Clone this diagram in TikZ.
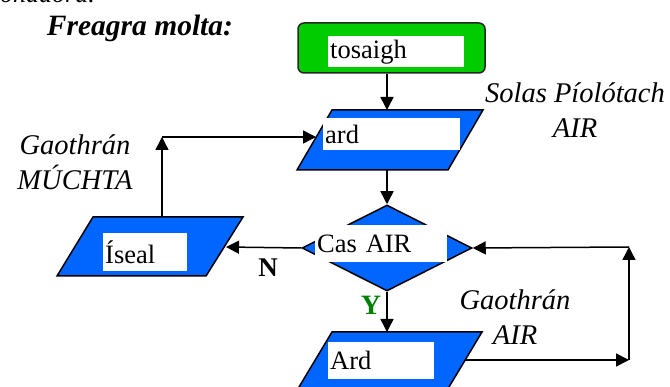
\documentclass[tikz,border=0pt]{standalone}
\usepackage{fontspec}
\setmainfont{Liberation Serif}
\usetikzlibrary{arrows.meta,shapes.geometric}
\definecolor{flowblue}{RGB}{0,102,255}
\definecolor{flowgreen}{RGB}{0,204,0}
\definecolor{ygreen}{RGB}{0,128,0}
\begin{document}
\begin{tikzpicture}[x=1pt,y=-1pt,
  big/.style={font=\fontsize{26.5}{34}\selectfont},
  lbl/.style={align=center, inner sep=0pt, font=\fontsize{28.5}{35}\selectfont\itshape},
  wbox/.style={fill=white, inner xsep=2pt, inner ysep=0pt, align=left, anchor=north west, big},
  para/.style={fill=flowblue, draw=black, line width=1.5pt, line join=miter},
  arr/.style={line width=1.5pt, -{Triangle[length=13pt,width=13pt]}},
  startbox/.style={fill=flowgreen, draw=black!85, line width=1.5pt, rounded corners=6pt},
  decbox/.style={diamond, fill=flowblue, draw=black, line width=1.5pt, inner sep=0pt}
]
\useasboundingbox (0,0) rectangle (670,387);
\clip (0,0) rectangle (670,387);

% clipped text at the very top
\node[anchor=base west, inner sep=0pt, font=\fontsize{26}{30}\selectfont\itshape] (toptext) at (0,3) {onadóra.};

% title
\node[inner sep=0pt, font=\fontsize{29.5}{32}\selectfont\bfseries\itshape] (title) at (140,28) {Freagra molta:};

% start
\node[startbox, minimum width=187pt, minimum height=50pt] (start) at (391.5,48) {};
\node[wbox, text width=132pt, minimum height=31pt] (starttxt) at (328,36) {tosaigh};

% input "ard"
\fill[para] (332,110) -- (483,110) -- (448,170) -- (297,170) -- cycle;
\coordinate (ardT) at (387,110);
\coordinate (ardB) at (387,170);
\coordinate (ardL) at (316,137);
\node[wbox, text width=133pt, minimum height=32pt] (ardtxt) at (323,118) {ard};

% decision
\node[decbox, minimum width=170pt, minimum height=86pt] (dec) at (387,248) {};
\node[wbox, text width=128pt, minimum height=37pt] (dectxt) at (315,225) {Cas AIR};

% output "Íseal"
\fill[para] (93,217) -- (243,217) -- (206,276) -- (57,276) -- cycle;
\coordinate (isealT) at (162,217);
\coordinate (isealR) at (226,247);
\node[wbox, text width=80pt, minimum height=38pt] (isealtxt) at (103,233) {Íseal};

% output "Ard"
\fill[para] (332,332) -- (482,332) -- (446,392) -- (296,392) -- cycle;
\coordinate (ArdT) at (387,332);
\coordinate (ArdR) at (465,360);
\node[wbox, text width=102pt, minimum height=37pt] (Ardtxt) at (328,342) {Ard};

% corners
\coordinate (c1) at (162,137);
\coordinate (c2) at (629,360);
\coordinate (c3) at (629,247);

% connectors
\draw[arr] (start.south -| ardT) -- (ardT);
\draw[arr] (ardB) -- (dec.north);
\draw[arr] (dec.west) -- (isealR);
\draw[arr] (isealT) -- (c1);
\draw[arr] (c1) -- (ardL);
\draw[arr] (dec.south) -- (ArdT);
\draw[arr] (ArdR) -- (c2);
\draw[arr] (c2) -- (c3);
\draw[arr] (c3) -- (dec.east);

% labels
\node[inner sep=0pt, font=\fontsize{27}{30}\selectfont\bfseries] (nlbl) at (268,268) {N};
\node[inner sep=0pt, text=ygreen, font=\fontsize{28}{30}\selectfont\bfseries] (ylbl) at (371,305) {Y};
\node[lbl] (solas) at (575,110) {Solas Píolótach\\AIR};
\node[lbl] (gmuchta) at (75,162) {Gaothrán\\MÚCHTA};
\node[lbl] (gair) at (515,317) {Gaothrán\\AIR};
\end{tikzpicture}
\end{document}
